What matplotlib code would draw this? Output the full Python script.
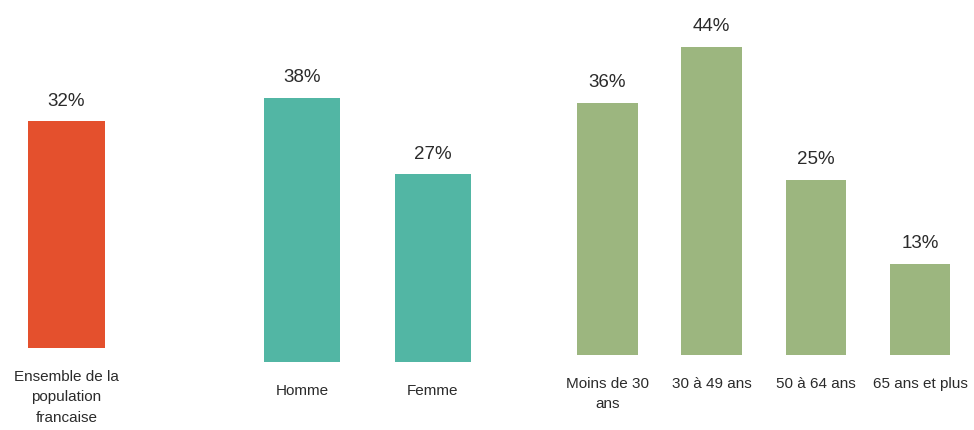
import matplotlib
matplotlib.use("Agg")
import matplotlib.pyplot as plt

plt.rcParams['font.family'] = ['Liberation Sans', 'DejaVu Sans']

# Survey shares (%) by group
total_labels = ["Ensemble de la\npopulation\nfrancaise"]
total_values = [32]

sex_labels = ["Homme", "Femme"]
sex_values = [38, 27]

age_labels = ["Moins de 30\nans", "30 à 49 ans", "50 à 64 ans", "65 ans et plus"]
age_values = [36, 44, 25, 13]

W, H = 974, 430
fig = plt.figure(figsize=(W / 100, H / 100), dpi=100)

text_color = "#2b2b2b"


def panel(left_px, width_px, base_px, px_per_unit, labels, values, color):
    ymax = 50
    height_px = ymax * px_per_unit
    ax = fig.add_axes([left_px / W, (H - base_px) / H, width_px / W, height_px / H])
    x = list(range(len(values)))
    bars = ax.bar(x, values, width=0.58, color=color)
    ax.set_xlim(-0.5, len(values) - 0.5)
    ax.set_ylim(0, ymax)
    for b, v in zip(bars, values):
        ax.annotate(f"{v}%", (b.get_x() + b.get_width() / 2, v),
                    xytext=(0, 8.5), textcoords="offset points",
                    ha="center", va="bottom", fontsize=13.5, color=text_color)
    ax.set_xticks(x)
    ax.set_xticklabels(labels, fontsize=11, color=text_color, linespacing=1.6)
    ax.tick_params(axis="x", length=0, pad=15.5)
    ax.set_yticks([])
    for s in ax.spines.values():
        s.set_visible(False)
    ax.patch.set_alpha(0)
    return ax


panel(0.1, 132.8, 348, 7.08, total_labels, total_values, "#E4502D")
panel(236.5, 262, 362, 6.95, sex_labels, sex_values, "#52B6A4")
panel(555.4, 416.8, 355, 7.0, age_labels, age_values, "#9CB67F")

fig.savefig("out.png", dpi=100, facecolor="white")
